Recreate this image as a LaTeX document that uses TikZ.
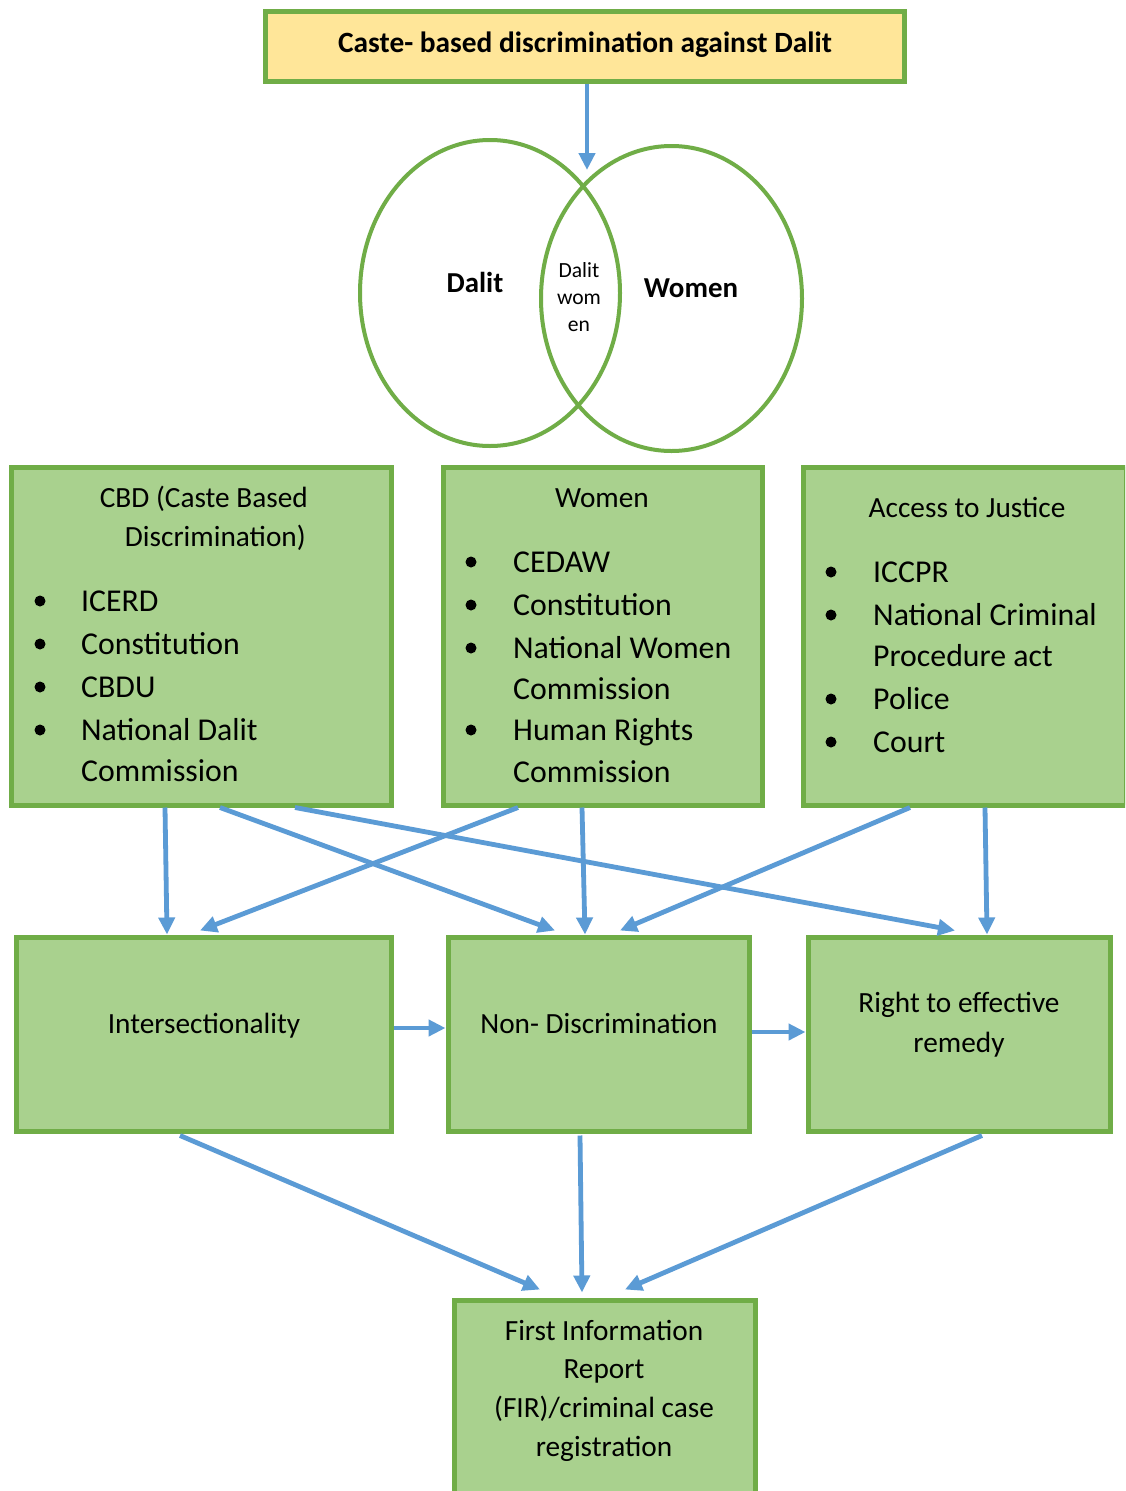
\documentclass[tikz,border=0pt]{standalone}
\usepackage{fontspec}
\setmainfont{Carlito}
\usetikzlibrary{arrows.meta,shapes.geometric,calc}
\definecolor{boxgreen}{HTML}{70AD47}
\definecolor{boxfill}{HTML}{A9D18E}
\definecolor{titlefill}{HTML}{FFE699}
\definecolor{arrowblue}{HTML}{5B9BD5}
\begin{document}
\begin{tikzpicture}[x=1pt,y=-1pt,
  gbox/.style={draw=boxgreen, line width=5pt, fill=boxfill, rectangle, inner sep=0pt, outer sep=2.5pt},
  venn/.style={draw=boxgreen, line width=4pt, ellipse, inner sep=0pt, outer sep=0pt},
  flow/.style={draw=arrowblue, line width=4.8pt, -{Triangle[length=17pt,width=16pt]}},
  itemtext/.style={font=\fontsize{31.8}{40}\selectfont, inner sep=0pt, anchor=base west},
  headtext/.style={font=\fontsize{29.3}{36}\selectfont, inner sep=0pt, anchor=base},
  titletext/.style={font=\bfseries\fontsize{29.4}{36}\selectfont, inner sep=0pt, anchor=base},
  venntext/.style={font=\bfseries\fontsize{28.9}{34}\selectfont, inner sep=0pt, anchor=base},
  smalltext/.style={font=\fontsize{21.6}{26}\selectfont, inner sep=0pt, anchor=base},
  dot/.style={circle, fill=black, inner sep=0pt, minimum size=11pt},
]
\clip (0,0) rectangle (1125,1491);
\fill[white] (0,0) rectangle (1125,1491);

% title box
\node[gbox, fill=titlefill, minimum width=639pt, minimum height=70pt] (top) at (584.5,46) {};
\node[titletext] (toptext) at (585,52) {Caste- based discrimination against Dalit};

% Venn diagram
\node[venn, minimum width=260pt, minimum height=306pt] (dalitc) at (490,293) {};
\node[venn, minimum width=261pt, minimum height=305pt] (womenc) at (671.5,298.5) {};
\coordinate (meet) at (587,170);
\node[venntext] (dalitlbl) at (475,292) {Dalit};
\node[venntext] (womenlbl) at (691,297) {Women};
\node[smalltext] (dw1) at (579,277) {Dalit};
\node[smalltext] (dw2) at (579,304) {wom};
\node[smalltext] (dw3) at (579,331) {en};

% three framework boxes
\node[gbox, minimum width=380pt, minimum height=338pt] (cbd) at (201,636) {};
\node[gbox, minimum width=319pt, minimum height=338pt] (wom) at (602.5,636) {};
\node[gbox, minimum width=323pt, minimum height=338pt] (acc) at (964.5,636) {};

% CBD box text
\node[headtext, anchor=base east] (cbdh1) at (308,507) {CBD (Caste Based};
\node[headtext, anchor=base east] (cbdh2) at (306,546) {Discrimination)};
\node[dot] (cbdb1) at (40,601) {};
\node[dot] (cbdb2) at (40,644) {};
\node[dot] (cbdb3) at (40,687) {};
\node[dot] (cbdb4) at (40,730) {};
\node[itemtext] (cbdi1) at (81,611) {ICERD};
\node[itemtext] (cbdi2) at (81,654) {Constitution};
\node[itemtext] (cbdi3) at (81,697) {CBDU};
\node[itemtext] (cbdi4) at (81,740) {National Dalit};
\node[itemtext] (cbdi5) at (81,781) {Commission};

% Women box text
\node[headtext] (womh) at (602,507) {Women};
\node[dot] (womb1) at (471,562) {};
\node[dot] (womb2) at (471,605) {};
\node[dot] (womb3) at (471,648) {};
\node[dot] (womb4) at (471,730) {};
\node[itemtext] (womi1) at (513,572) {CEDAW};
\node[itemtext] (womi2) at (513,615) {Constitution};
\node[itemtext] (womi3) at (513,658) {National Women};
\node[itemtext] (womi4) at (513,699) {Commission};
\node[itemtext] (womi5) at (513,740) {Human Rights};
\node[itemtext] (womi6) at (513,782) {Commission};

% Access to Justice box text
\node[headtext] (acch) at (967,517) {Access to Justice};
\node[dot] (accb1) at (831,572) {};
\node[dot] (accb2) at (831,615) {};
\node[dot] (accb3) at (831,699) {};
\node[dot] (accb4) at (831,742) {};
\node[itemtext] (acci1) at (873,582) {ICCPR};
\node[itemtext] (acci2) at (873,625) {National Criminal};
\node[itemtext] (acci3) at (873,666) {Procedure act};
\node[itemtext] (acci4) at (873,709) {Police};
\node[itemtext] (acci5) at (873,752) {Court};

% principle boxes
\node[gbox, minimum width=375pt, minimum height=194pt] (inter) at (203.5,1034) {};
\node[gbox, minimum width=301pt, minimum height=194pt] (nondis) at (598.5,1034) {};
\node[gbox, minimum width=302pt, minimum height=194pt] (remedy) at (959,1034) {};
\node[headtext] (intert) at (204,1033) {Intersectionality};
\node[headtext] (nondist) at (599,1033) {Non- Discrimination};
\node[headtext] (remt1) at (959,1012) {Right to effective};
\node[headtext] (remt2) at (959,1052) {remedy};

% outcome box
\node[gbox, minimum width=301pt, minimum height=200pt] (fir) at (604.5,1400) {};
\node[headtext] (firt1) at (604,1340) {First Information};
\node[headtext] (firt2) at (604,1378) {Report};
\node[headtext] (firt3) at (604,1417) {(FIR)/criminal case};
\node[headtext] (firt4) at (604,1456) {registration};

% connectors
\draw[flow] ($(top.south)+(2.5,0)$) -- (meet);

\draw[flow] ($(cbd.south)+(-36,0)$) -- ($(inter.north)+(-36.5,0)$);
\draw[flow] ($(cbd.south)+(19,0)$) -- ($(nondis.north)+(-43.5,-4)$);
\draw[flow] ($(cbd.south)+(94,0)$) -- ($(remedy.north)+(-4,-4)$);
\draw[flow] ($(wom.south)+(-84.5,0)$) -- ($(inter.north)+(-3.5,-4)$);
\draw[flow] ($(wom.south)+(-20.5,0)$) -- ($(nondis.north)+(-13.5,0)$);
\draw[flow] ($(acc.south)+(-54.5,0)$) -- ($(nondis.north)+(21.5,-4)$);
\draw[flow] ($(acc.south)+(20.5,0)$) -- ($(remedy.north)+(28,0)$);

\draw[flow] ($(inter.east)+(0,-6)$) -- ($(nondis.west)+(0,-6)$);
\draw[flow] ($(nondis.east)+(0,-2)$) -- ($(remedy.west)+(0,-2)$);

\draw[flow] ($(inter.south)+(-23.5,2)$) -- ($(fir.north)+(-64.5,-8)$);
\draw[flow] ($(nondis.south)+(-18.5,2)$) -- ($(fir.north)+(-22.5,-5)$);
\draw[flow] ($(remedy.south)+(23,2)$) -- ($(fir.north)+(20.5,-8)$);
\end{tikzpicture}
\end{document}
